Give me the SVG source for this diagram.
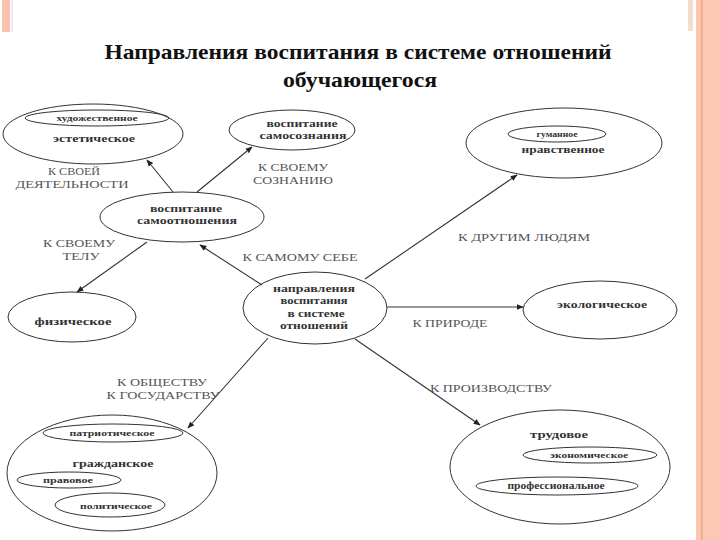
<svg xmlns="http://www.w3.org/2000/svg" width="720" height="540" viewBox="0 0 720 540">
<style>
.e{fill:none;stroke:#333;stroke-width:1}
.c{stroke:#333;stroke-width:1.1;fill:none;marker-end:url(#ah)}
text{font-family:'Liberation Serif','Times New Roman',Times,'DejaVu Serif',serif}
.t{font-weight:bold;fill:#333;text-anchor:middle}
.l{fill:#555;font-size:10.5px;text-anchor:middle}
.title{font-weight:bold;fill:#111;font-size:22px;text-anchor:middle}
</style>
<defs>
<marker id="ah" viewBox="0 0 10 10" refX="9" refY="5" markerWidth="7" markerHeight="7" orient="auto" markerUnits="userSpaceOnUse">
<path d="M0,1 L10,5 L0,9 z" fill="#222"/>
</marker>
</defs>
<rect x="0" y="0" width="720" height="540" fill="#fff"/>
<g id="frame">
<rect x="2" y="0" width="8" height="32" fill="#fbc3ad"/>
<rect x="11" y="0" width="2" height="32" fill="#f3e6f3"/>
<rect x="688" y="0" width="5" height="31" fill="#f6dccd"/>
<rect x="696" y="0" width="24" height="540" fill="#fcc8b4"/>
<rect x="701" y="0" width="1.5" height="540" fill="#f2a27f"/>
</g>
<g id="title">
<text class="title" x="358" y="59" textLength="507" lengthAdjust="spacingAndGlyphs">Направления воспитания в системе отношений</text>
<text class="title" x="360" y="87" textLength="154" lengthAdjust="spacingAndGlyphs">обучающегося</text>
</g>
<g id="connectors">
<line class="c" x1="173" y1="192" x2="147" y2="160"/>
<line class="c" x1="197" y1="192" x2="252" y2="147"/>
<line class="c" x1="147" y1="242" x2="77" y2="292"/>
<line class="c" x1="262" y1="285" x2="200" y2="245"/>
<line class="c" x1="365" y1="279" x2="517" y2="175"/>
<line class="c" x1="387" y1="307" x2="523" y2="307"/>
<line class="c" x1="268" y1="338" x2="188" y2="428"/>
<line class="c" x1="355" y1="339" x2="480" y2="425"/>
</g>
<g id="labels">
<text class="l" x="74" y="175" textLength="52" lengthAdjust="spacingAndGlyphs">К СВОЕЙ</text>
<text class="l" x="72" y="188" textLength="113" lengthAdjust="spacingAndGlyphs">ДЕЯТЕЛЬНОСТИ</text>
<text class="l" x="293" y="171" textLength="70" lengthAdjust="spacingAndGlyphs">К СВОЕМУ</text>
<text class="l" x="293" y="184" textLength="80" lengthAdjust="spacingAndGlyphs">СОЗНАНИЮ</text>
<text class="l" x="524" y="241" textLength="132" lengthAdjust="spacingAndGlyphs">К ДРУГИМ ЛЮДЯМ</text>
<text class="l" x="79" y="247" textLength="72" lengthAdjust="spacingAndGlyphs">К СВОЕМУ</text>
<text class="l" x="81" y="260" textLength="37" lengthAdjust="spacingAndGlyphs">ТЕЛУ</text>
<text class="l" x="300" y="261" textLength="115" lengthAdjust="spacingAndGlyphs">К САМОМУ СЕБЕ</text>
<text class="l" x="450" y="327" textLength="75" lengthAdjust="spacingAndGlyphs">К ПРИРОДЕ</text>
<text class="l" x="162" y="386" textLength="90" lengthAdjust="spacingAndGlyphs">К ОБЩЕСТВУ</text>
<text class="l" x="163" y="399" textLength="113" lengthAdjust="spacingAndGlyphs">К ГОСУДАРСТВУ</text>
<text class="l" x="491" y="392" textLength="122" lengthAdjust="spacingAndGlyphs">К ПРОИЗВОДСТВУ</text>
</g>
<g id="esteticheskoe">
<ellipse class="e" cx="93" cy="134" rx="90" ry="30"/>
<ellipse class="e" cx="97" cy="118" rx="72" ry="8"/>
<text class="t" x="97" y="121" font-size="9" textLength="81" lengthAdjust="spacingAndGlyphs">художественное</text>
<text class="t" x="94" y="142" font-size="10" textLength="82" lengthAdjust="spacingAndGlyphs">эстетическое</text>
</g>
<g id="samosoznanie">
<ellipse class="e" cx="292" cy="130" rx="63" ry="20"/>
<text class="t" x="302" y="127" font-size="10" textLength="71" lengthAdjust="spacingAndGlyphs">воспитание</text>
<text class="t" x="303" y="139" font-size="10" textLength="87" lengthAdjust="spacingAndGlyphs">самосознания</text>
</g>
<g id="nravstvennoe">
<ellipse class="e" cx="564" cy="143" rx="98" ry="35"/>
<ellipse class="e" cx="557" cy="134" rx="49" ry="8"/>
<text class="t" x="557" y="137" font-size="8" textLength="41" lengthAdjust="spacingAndGlyphs">гуманное</text>
<text class="t" x="563" y="153" font-size="10.5" textLength="83" lengthAdjust="spacingAndGlyphs">нравственное</text>
</g>
<g id="samootnoshenie">
<ellipse class="e" cx="182" cy="217" rx="82" ry="25" stroke-width="1.4"/>
<text class="t" x="186" y="212" font-size="10" textLength="72" lengthAdjust="spacingAndGlyphs">воспитание</text>
<text class="t" x="187" y="224" font-size="10" textLength="100" lengthAdjust="spacingAndGlyphs">самоотношения</text>
</g>
<g id="fizicheskoe">
<ellipse class="e" cx="72" cy="317" rx="64" ry="25"/>
<text class="t" x="73" y="325" font-size="10" textLength="77" lengthAdjust="spacingAndGlyphs">физическое</text>
</g>
<g id="center">
<ellipse class="e" cx="315" cy="308" rx="72" ry="36" stroke-width="2.5" stroke="#111"/>
<text class="t" x="314" y="292" font-size="10.5" fill="#111" textLength="82" lengthAdjust="spacingAndGlyphs">направления</text>
<text class="t" x="314" y="304" font-size="10.5" fill="#111" textLength="67" lengthAdjust="spacingAndGlyphs">воспитания</text>
<text class="t" x="316" y="317" font-size="10.5" fill="#111" textLength="57" lengthAdjust="spacingAndGlyphs">в системе</text>
<text class="t" x="314" y="329" font-size="10.5" fill="#111" textLength="68" lengthAdjust="spacingAndGlyphs">отношений</text>
</g>
<g id="ekologicheskoe">
<ellipse class="e" cx="600" cy="310" rx="77" ry="29"/>
<text class="t" x="602" y="308" font-size="9.5" textLength="90" lengthAdjust="spacingAndGlyphs">экологическое</text>
</g>
<g id="grazhdanskoe">
<ellipse class="e" cx="112" cy="473" rx="105" ry="58"/>
<ellipse class="e" cx="113" cy="433" rx="70" ry="9"/>
<text class="t" x="112" y="436" font-size="9" textLength="85" lengthAdjust="spacingAndGlyphs">патриотическое</text>
<text class="t" x="113" y="467" font-size="10.5" textLength="81" lengthAdjust="spacingAndGlyphs">гражданское</text>
<ellipse class="e" cx="69" cy="480" rx="52" ry="8"/>
<text class="t" x="68" y="483" font-size="8.5" textLength="50" lengthAdjust="spacingAndGlyphs">правовое</text>
<ellipse class="e" cx="110" cy="505" rx="55" ry="12"/>
<text class="t" x="116" y="509" font-size="9" textLength="72" lengthAdjust="spacingAndGlyphs">политическое</text>
</g>
<g id="trudovoe">
<ellipse class="e" cx="560" cy="467" rx="110" ry="57"/>
<text class="t" x="559" y="438" font-size="10.5" textLength="58" lengthAdjust="spacingAndGlyphs">трудовое</text>
<ellipse class="e" cx="590" cy="455" rx="67" ry="8"/>
<text class="t" x="589" y="458" font-size="8.5" textLength="78" lengthAdjust="spacingAndGlyphs">экономическое</text>
<ellipse class="e" cx="557" cy="486" rx="81" ry="9"/>
<text class="t" x="556" y="489" font-size="9.5" textLength="97" lengthAdjust="spacingAndGlyphs">профессиональное</text>
</g>
</svg>
